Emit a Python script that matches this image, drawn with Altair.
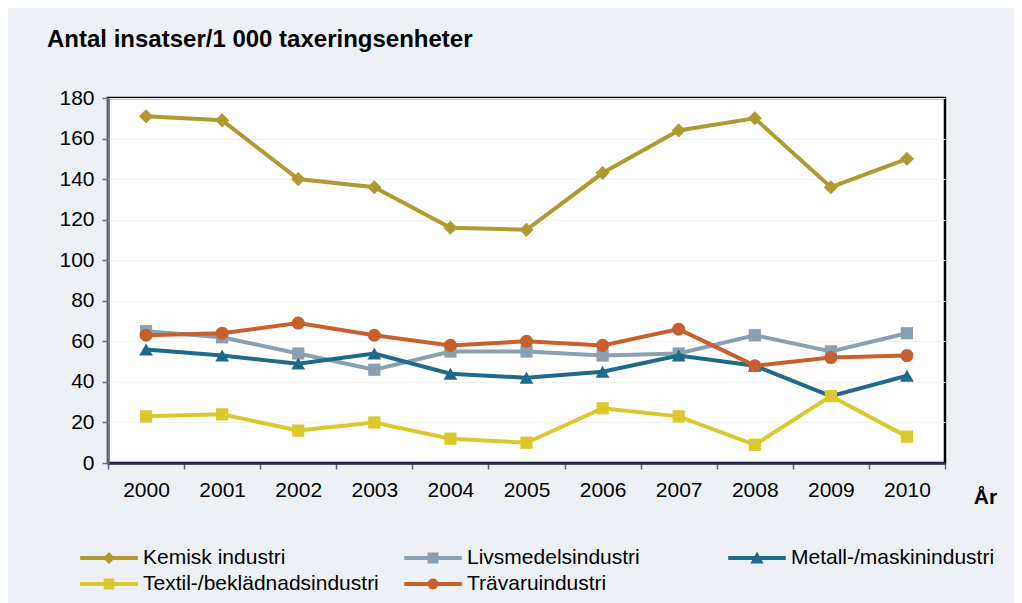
import altair as alt
import pandas as pd

years = ["2000", "2001", "2002", "2003", "2004", "2005", "2006", "2007", "2008", "2009", "2010"]
kemisk = [171, 169, 140, 136, 116, 115, 143, 164, 170, 136, 150]
livsmedel = [65, 62, 54, 46, 55, 55, 53, 54, 63, 55, 64]
metall = [56, 53, 49, 54, 44, 42, 45, 53, 48, 33, 43]
textil = [23, 24, 16, 20, 12, 10, 27, 23, 9, 33, 13]
travaru = [63, 64, 69, 63, 58, 60, 58, 66, 48, 52, 53]

series_names = ["Kemisk industri", "Livsmedelsindustri", "Metall-/maskinindustri",
                "Textil-/beklädnadsindustri", "Trävaruindustri"]
series_values = [kemisk, livsmedel, metall, textil, travaru]
colors = ["#AE9A30", "#8A9FB2", "#1F6A8A", "#DCC82E", "#C8602E"]
shapes = ["diamond", "square", "triangle-up", "square", "circle"]
sizes = [200, 150, 190, 150, 170]

LINE = "M-2.4,-0.17H2.4V0.17H-2.4Z"
legend_paths = [
    LINE + "M0,-0.5L0.5,0L0,0.5L-0.5,0Z",
    LINE + "M-0.45,-0.45H0.45V0.45H-0.45Z",
    LINE + "M0,-0.55L0.55,0.45L-0.55,0.45Z",
    LINE + "M-0.45,-0.45H0.45V0.45H-0.45Z",
    LINE + "M0.45,0A0.45,0.45 0 1,1 -0.45,0A0.45,0.45 0 1,1 0.45,0Z",
]

rows = []
for name, vals in zip(series_names, series_values):
    for yr, v in zip(years, vals):
        rows.append({"year": yr, "value": v, "series": name, "leg": name})
df = pd.DataFrame(rows)

FONT = "Liberation Sans"

x_enc = alt.X("year:O", bandPosition=0.5,
              scale=alt.Scale(type="band", paddingInner=0, paddingOuter=0, domain=years),
              axis=alt.Axis(title="År", labelAngle=0, tickBand="extent", grid=False,
                            labelFontSize=21, labelFont=FONT, labelColor="black",
                            labelPadding=10, tickSize=6, tickColor="#5A6090", tickWidth=1.5,
                            domainColor="#2A2C4A", domainWidth=2.5,
                            titleFontSize=21, titleFont=FONT, titleFontWeight="bold",
                            titleX=877, titleY=34, titleAlign="center", titleBaseline="middle",
                            titleColor="black"))
y_enc = alt.Y("value:Q",
              scale=alt.Scale(domain=[0, 180], nice=False),
              axis=alt.Axis(title=None, values=list(range(0, 181, 20)), grid=True,
                            gridColor="#F1F1F1", gridWidth=1,
                            labelFontSize=21, labelFont=FONT, labelColor="black",
                            labelPadding=8, tickSize=6, tickColor="#6A70A0", tickWidth=1.5,
                            domainColor="#6A70A0", domainWidth=2.5))

base = alt.Chart(df)
layers = []
for i, name in enumerate(series_names):
    sub = base.transform_filter(alt.datum.series == name)
    layers.append(sub.mark_line(strokeWidth=4, color=colors[i]).encode(x=x_enc, y=y_enc))
    layers.append(sub.mark_point(filled=True, opacity=1, size=sizes[i], shape=shapes[i],
                                 color=colors[i], strokeWidth=0).encode(x=x_enc, y=y_enc))


def make_legend():
    return alt.Legend(title=None, orient="none", legendX=-11, legendY=448, direction="horizontal",
                      columns=3, gridAlign="all", columnPadding=25, rowPadding=4,
                      labelFontSize=21, labelFont=FONT, labelColor="black",
                      labelOffset=22, labelLimit=500, symbolSize=576,
                      symbolStrokeWidth=0, symbolOpacity=1, padding=0)


legend_layer = base.mark_point(filled=True, opacity=0, size=576).encode(
    x=x_enc, y=y_enc,
    color=alt.Color("leg:N", scale=alt.Scale(domain=series_names, range=colors),
                    legend=make_legend()),
    shape=alt.Shape("leg:N", scale=alt.Scale(domain=series_names, range=legend_paths),
                    legend=make_legend()),
)

chart = alt.layer(*layers, legend_layer).properties(
    width=837,
    height=365,
    autosize=alt.AutoSizeParams(type="none"),
    padding={"left": 100, "top": 90, "right": 69, "bottom": 140},
    background="#EDF0F5",
    title=alt.TitleParams("Antal insatser/1 000 taxeringsenheter", anchor="start", frame="group",
                          fontSize=24, fontWeight="bold", font=FONT, color="black",
                          dx=-61, offset=16, baseline="alphabetic"),
).configure_view(
    fill="white", stroke="black", strokeWidth=2.5
).configure_legend(
    symbolOpacity=1
)

chart.save("out.html", embed_options={"renderer": "svg", "actions": False})
